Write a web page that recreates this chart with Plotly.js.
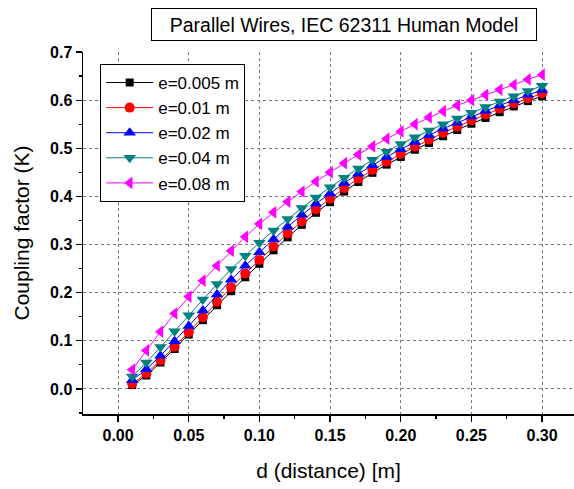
<!DOCTYPE html>
<html>
<head>
<meta charset="utf-8">
<script src="https://cdn.plot.ly/plotly-3.0.1.min.js"></script>
<style>html,body{margin:0;padding:0;background:#fff;}#chart{width:574px;height:489px;}</style>
</head>
<body>
<div id="chart"></div>
<script>
const distance = [0.01,0.02,0.03,0.04,0.05,0.06,0.07,0.08,0.09,0.10,0.11,0.12,0.13,0.14,0.15,0.16,0.17,0.18,0.19,0.20,0.21,0.22,0.23,0.24,0.25,0.26,0.27,0.28,0.29,0.30];
const k_e0005 = [0.008,0.028,0.055,0.083,0.113,0.143,0.174,0.203,0.232,0.260,0.288,0.315,0.341,0.366,0.388,0.410,0.430,0.449,0.466,0.482,0.497,0.511,0.525,0.538,0.551,0.563,0.575,0.587,0.598,0.608];
const k_e001 = [0.011,0.032,0.059,0.088,0.118,0.149,0.181,0.211,0.240,0.268,0.296,0.323,0.348,0.373,0.395,0.417,0.437,0.455,0.472,0.488,0.503,0.518,0.532,0.545,0.558,0.570,0.582,0.593,0.604,0.614];
const k_e002 = [0.018,0.041,0.069,0.099,0.131,0.163,0.196,0.227,0.256,0.284,0.311,0.337,0.362,0.385,0.406,0.428,0.447,0.465,0.482,0.498,0.513,0.527,0.541,0.553,0.566,0.578,0.589,0.600,0.611,0.621];
const k_e004 = [0.026,0.055,0.087,0.120,0.153,0.186,0.218,0.249,0.277,0.304,0.329,0.353,0.376,0.398,0.419,0.439,0.458,0.476,0.493,0.509,0.523,0.537,0.550,0.562,0.574,0.586,0.597,0.608,0.619,0.630];
const k_e008 = [0.040,0.080,0.119,0.157,0.192,0.225,0.256,0.287,0.316,0.343,0.367,0.389,0.410,0.431,0.450,0.469,0.487,0.504,0.520,0.535,0.550,0.564,0.577,0.589,0.600,0.611,0.622,0.632,0.643,0.653];
const seriesNames = ["e=0.005 m","e=0.01 m","e=0.02 m","e=0.04 m","e=0.08 m"];
const titleText = "Parallel Wires, IEC 62311 Human Model";
const xTitle = "d (distance) [m]";
const yTitle = "Coupling factor (K)";

const values = [k_e0005,k_e001,k_e002,k_e004,k_e008];
const colors = ["#000000","#ff0000","#0000ff","#008080","#ff00ff"];
const symbols = ["square","circle","triangle-up","triangle-down","triangle-left"];
const sizes = [8,10,11,11,11];

const traces = values.map((v,i)=>({
  x: distance, y: v, name: seriesNames[i], type:'scatter', mode:'lines+markers',
  line:{color:colors[i], width:1},
  marker:{symbol:symbols[i], color:colors[i], size:sizes[i], line:{width:0}}
}));

const font = "Liberation Sans, Arial, sans-serif";
const layout = {
  width:574, height:489,
  margin:{l:83, r:0, t:52, b:75},
  paper_bgcolor:'#fff', plot_bgcolor:'#fff',
  showlegend:true,
  legend:{x:0.035, y:0.967, xanchor:'left', yanchor:'top', bgcolor:'#fff', bordercolor:'#000', borderwidth:1,
          itemwidth:47, font:{family:font, size:17, color:'#000'}, tracegroupgap:0},
  xaxis:{range:[-0.0248,0.3226], tick0:0, dtick:0.05, tickformat:'.2f', ticks:'outside', ticklen:6, tickwidth:1.2, tickcolor:'#000',
         showline:true, linecolor:'#000', linewidth:1.5, mirror:false, zeroline:false,
         showgrid:true, gridcolor:'#777', griddash:'dot', gridwidth:1,
         minor:{dtick:0.025, tick0:0, ticks:'outside', ticklen:3, tickcolor:'#000', showgrid:false},
         tickfont:{family:font, size:16, color:'#000', weight:'bold'},
         title:{text:xTitle, font:{family:font, size:21, color:'#000'}, standoff:20}},
  yaxis:{range:[-0.052,0.7], tick0:0, dtick:0.1, tickformat:'.1f', ticks:'outside', ticklen:6, tickwidth:1.2, tickcolor:'#000',
         showline:true, linecolor:'#000', linewidth:1.5, mirror:false, zeroline:false,
         showgrid:true, gridcolor:'#777', griddash:'dot', gridwidth:1,
         minor:{dtick:0.05, tick0:0, ticks:'outside', ticklen:3, tickcolor:'#000', showgrid:false},
         tickfont:{family:font, size:16, color:'#000', weight:'bold'},
         title:{text:yTitle, font:{family:font, size:21, color:'#000'}, standoff:14}},
  annotations:[{text:titleText, xref:'paper', yref:'paper', x:0.5316, y:1.076, xanchor:'center', yanchor:'middle',
                showarrow:false, font:{family:font, size:19.5, color:'#000'},
                bordercolor:'#000', borderwidth:1, borderpad:4, bgcolor:'#fff', width:376, height:23}]
};
Plotly.newPlot('chart', traces, layout, {displayModeBar:false, staticPlot:true});
</script>
</body>
</html>
